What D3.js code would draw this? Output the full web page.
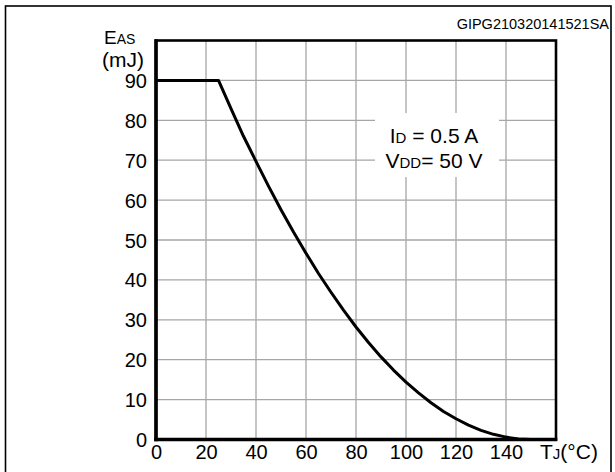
<!DOCTYPE html>
<html><head><meta charset="utf-8">
<script src="https://cdn.jsdelivr.net/npm/d3@7"></script>
<style>
html,body{margin:0;padding:0;background:#fff;}
svg text{font-family:"Liberation Sans",Arial,sans-serif;fill:#000;}
</style></head>
<body><svg id="c" width="615" height="472"></svg>
<script>
// Data
const tempC = [0, 25, 30, 35, 40, 45, 50, 55, 60, 65, 70, 75, 80, 85, 90, 95, 100, 105, 110, 115, 120, 125, 130, 135, 140, 145, 150];
const easMJ = [90, 90, 82.9, 76.0, 69.7, 63.5, 57.6, 52.0, 46.7, 41.6, 36.9, 32.4, 28.2, 24.3, 20.7, 17.4, 14.4, 11.7, 9.2, 7.0, 5.2, 3.6, 2.3, 1.3, 0.6, 0.15, 0];
const xTickValues = [0, 20, 40, 60, 80, 100, 120, 140];
const yTickValues = [0, 10, 20, 30, 40, 50, 60, 70, 80, 90];
const xGrid = [20, 40, 60, 80, 100, 120, 140];
const yGrid = [10, 20, 30, 40, 50, 60, 70, 80, 90];

const svg = d3.select("#c");
const x = d3.scaleLinear().domain([0, 160]).range([156, 556]);
const y = d3.scaleLinear().domain([0, 100]).range([439.5, 40.5]);

// outer frame
svg.append("rect").attr("x", 5.5).attr("y", 6).attr("width", 605.5).attr("height", 480)
  .attr("fill", "none").attr("stroke", "#000").attr("stroke-width", 1.6);

// grid
const g = svg.append("g");
g.selectAll("line.vx").data(xGrid).join("line")
  .attr("x1", d => x(d)).attr("x2", d => x(d)).attr("y1", y(100)).attr("y2", y(0))
  .attr("stroke", "#a6a6a6").attr("stroke-width", 1.3);
g.selectAll("line.hy").data(yGrid).join("line")
  .attr("y1", d => y(d)).attr("y2", d => y(d)).attr("x1", x(0)).attr("x2", x(160))
  .attr("stroke", "#a6a6a6").attr("stroke-width", 1.3);

// annotation box (white, covers grid)
svg.append("rect").attr("x", 375).attr("y", 113).attr("width", 124).attr("height", 64).attr("fill", "#fff");
const t1 = svg.append("text").attr("x", 434).attr("y", 142.5).attr("text-anchor", "middle").attr("font-size", 21);
t1.append("tspan").text("I");
t1.append("tspan").attr("font-size", 15).text("D");
t1.append("tspan").text(" = 0.5 A");
const t2 = svg.append("text").attr("x", 434).attr("y", 168).attr("text-anchor", "middle").attr("font-size", 21);
t2.append("tspan").text("V");
t2.append("tspan").attr("font-size", 15).text("DD");
t2.append("tspan").text("= 50 V");

// curve
const line = d3.line().x((d, i) => x(tempC[i])).y((d, i) => y(easMJ[i])).curve(d3.curveLinear);
svg.append("path").attr("d", line(easMJ)).attr("fill", "none").attr("stroke", "#000")
  .attr("stroke-width", 3).attr("stroke-linejoin", "round");

// plot border
svg.append("rect").attr("x", x(0)).attr("y", y(100)).attr("width", x(160) - x(0)).attr("height", y(0) - y(100))
  .attr("fill", "none").attr("stroke", "#000").attr("stroke-width", 2.6);
svg.append("line").attr("x1", x(0)).attr("x2", x(0)).attr("y1", y(100) - 1.3).attr("y2", y(0) + 1.7)
  .attr("stroke", "#000").attr("stroke-width", 3.6);
svg.append("line").attr("x1", x(0) - 1.8).attr("x2", x(160) + 1.3).attr("y1", y(0)).attr("y2", y(0))
  .attr("stroke", "#000").attr("stroke-width", 3.6);

// axes tick labels via d3 axes
const xAxis = d3.axisBottom(x).tickValues(xTickValues).tickSize(0).tickPadding(0).tickFormat(d3.format("d"));
const xa = svg.append("g").attr("transform", `translate(0,${y(0) + 5})`).call(xAxis);
xa.select(".domain").remove();
xa.selectAll("text").attr("font-size", 20).attr("dy", "0.71em").attr("font-family", null);

const yAxis = d3.axisLeft(y).tickValues(yTickValues).tickSize(0).tickPadding(0).tickFormat(d3.format("d"));
const ya = svg.append("g").attr("transform", `translate(${x(0) - 9},0)`).call(yAxis);
ya.select(".domain").remove();
ya.selectAll("text").attr("font-size", 20).attr("dy", "0.35em").attr("font-family", null);

// axis titles
const ey = svg.append("text").attr("x", 104).attr("y", 44).attr("font-size", 19);
ey.append("tspan").text("E");
ey.append("tspan").attr("font-size", 14).text("AS");
svg.append("text").attr("x", 102).attr("y", 67).attr("font-size", 21).text("(mJ)");

const tx = svg.append("text").attr("x", 540).attr("y", 459).attr("font-size", 21);
tx.append("tspan").text("T");
tx.append("tspan").attr("font-size", 15).text("J");
tx.append("tspan").text("(°C)");

svg.append("text").attr("x", 609).attr("y", 29).attr("text-anchor", "end").attr("font-size", 14.5).text("GIPG210320141521SA");
</script></body></html>
